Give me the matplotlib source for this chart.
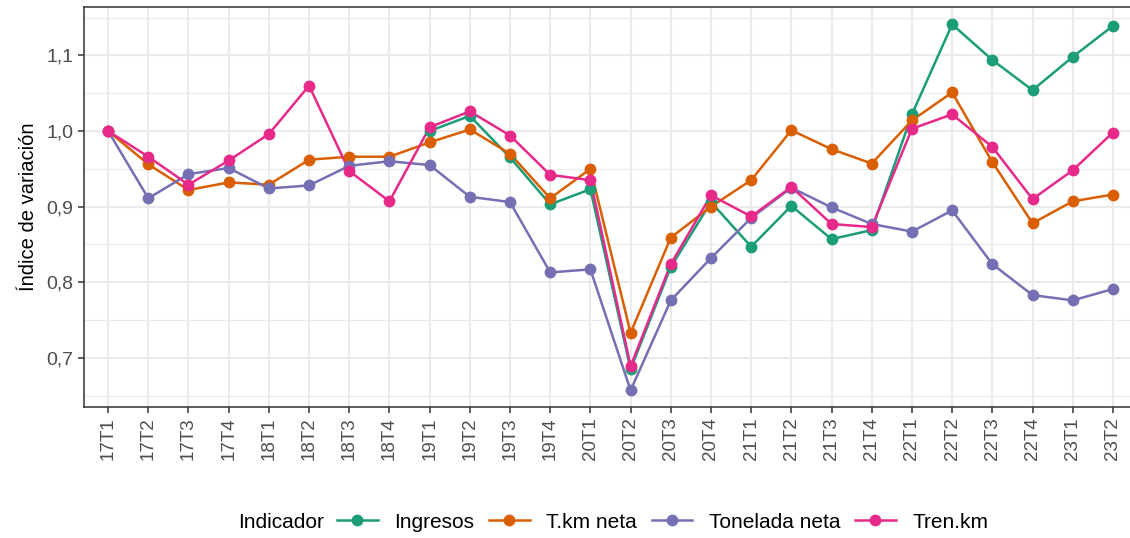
import matplotlib
matplotlib.use("Agg")
import matplotlib.pyplot as plt
from matplotlib.ticker import FixedLocator, FuncFormatter
import numpy as np

nan = np.nan

trimestres = ["17T1", "17T2", "17T3", "17T4", "18T1", "18T2", "18T3", "18T4",
              "19T1", "19T2", "19T3", "19T4", "20T1", "20T2", "20T3", "20T4",
              "21T1", "21T2", "21T3", "21T4", "22T1", "22T2", "22T3", "22T4",
              "23T1", "23T2"]

ingresos = [nan, nan, nan, nan, nan, nan, nan, nan,
            1.000, 1.020, 0.965, 0.903, 0.923, 0.685, 0.820, 0.906,
            0.847, 0.901, 0.857, 0.869, 1.022, 1.141, 1.094, 1.054,
            1.098, 1.139]
tkm_neta = [1.000, 0.956, 0.922, 0.932, 0.929, 0.962, 0.966, 0.966,
            0.985, 1.002, 0.970, 0.911, 0.950, 0.733, 0.859, 0.900,
            0.935, 1.001, 0.976, 0.957, 1.014, 1.051, 0.959, 0.878,
            0.907, 0.916]
tonelada_neta = [1.000, 0.911, 0.943, 0.951, 0.924, 0.928, 0.954, 0.960,
                 0.955, 0.913, 0.906, 0.813, 0.817, 0.657, 0.776, 0.832,
                 0.885, 0.925, 0.899, 0.877, 0.867, 0.895, 0.824, 0.783,
                 0.776, 0.791]
tren_km = [1.000, 0.966, 0.929, 0.961, 0.996, 1.060, 0.947, 0.907,
           1.005, 1.026, 0.994, 0.942, 0.935, 0.689, 0.824, 0.915,
           0.887, 0.926, 0.877, 0.873, 1.003, 1.022, 0.979, 0.910,
           0.948, 0.998]

series = [
    ("Ingresos", ingresos, "#1B9E77"),
    ("T.km neta", tkm_neta, "#D95F02"),
    ("Tonelada neta", tonelada_neta, "#7570B3"),
    ("Tren.km", tren_km, "#E7298A"),
]

plt.rcParams["font.family"] = ["Liberation Sans", "DejaVu Sans"]

W, H = 1130, 538
fig = plt.figure(figsize=(W / 100, H / 100), dpi=100)
# panel: la derecha queda recortada, como en el original
left, right, top, bottom = 84, 1137, 7, 407
ax = fig.add_axes([left / W, 1 - bottom / H, (right - left) / W, (bottom - top) / H])

x = np.arange(len(trimestres))
# lineas primero, puntos despues (como ggplot)
for name, vals, col in series:
    ax.plot(x, vals, color=col, linewidth=1.8, solid_capstyle="butt", zorder=3)
for name, vals, col in series:
    ax.plot(x, vals, linestyle="none", marker="o", markersize=8.5,
            color=col, markeredgewidth=0, zorder=4)

ax.set_xlim(-0.6, len(trimestres) - 0.4)
ax.set_ylim(0.635, 1.164)
ax.set_xticks(x)
ax.set_xticklabels(trimestres, rotation=90, color="#4D4D4D", fontsize=13.5)
ax.yaxis.set_major_locator(FixedLocator([0.7, 0.8, 0.9, 1.0, 1.1]))
ax.yaxis.set_minor_locator(FixedLocator([0.65, 0.75, 0.85, 0.95, 1.05, 1.15]))
ax.yaxis.set_major_formatter(FuncFormatter(lambda v, p: f"{v:.1f}".replace(".", ",")))
ax.tick_params(axis="y", labelsize=14, labelcolor="#4D4D4D")
ax.tick_params(which="major", length=4, width=1.1, color="#333333")
ax.tick_params(which="minor", length=0)

ax.grid(which="major", color="#EBEBEB", linewidth=1.5, zorder=0)
ax.grid(which="minor", axis="y", color="#EBEBEB", linewidth=0.8, zorder=0)
ax.set_axisbelow(True)
for s in ax.spines.values():
    s.set_color("#333333")
    s.set_linewidth(1.1)

ax.set_ylabel("Índice de variación", fontsize=14.5, labelpad=6)

fig.text(238 / W, 1 - 522 / H, "Indicador", fontsize=15, va="center", ha="left")
handles = [plt.Line2D([], [], color=c, linewidth=1.8, marker="o", markersize=8.5,
                      markeredgewidth=0) for _, _, c in series]
fig.legend(handles, [n for n, _, _ in series], loc="center left",
           bbox_to_anchor=(337 / W, 1 - 522 / H), ncol=4, frameon=False,
           fontsize=15, handlelength=1.95, handletextpad=0.8,
           columnspacing=0.7, borderaxespad=0, borderpad=0)

fig.savefig("out.png", dpi=100)
